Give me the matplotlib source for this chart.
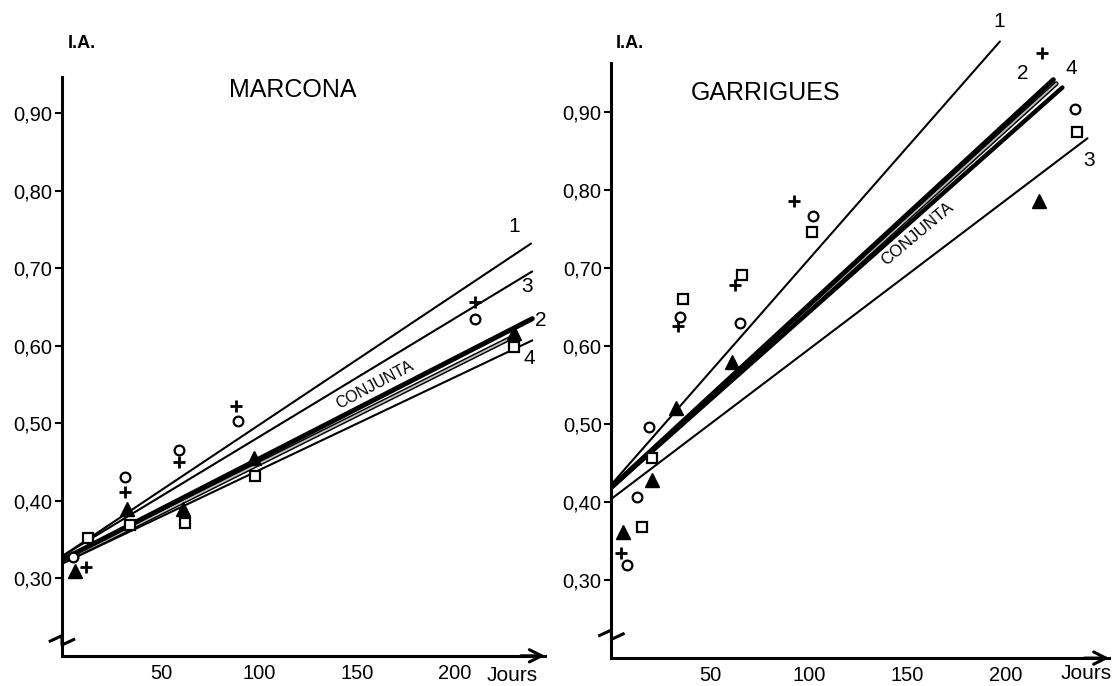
import matplotlib
matplotlib.use("Agg")
import matplotlib.pyplot as plt

plt.rcParams['font.family'] = ['Liberation Sans', 'DejaVu Sans']

# ---------------- MARCONA (left) ----------------
m_tri_x = [5.6, 32.0, 60.8, 97.0, 230.3]
m_tri_y = [0.309, 0.389, 0.390, 0.455, 0.616]
m_plus_x = [11.2, 31.2, 58.6, 87.8, 210.2]
m_plus_y = [0.315, 0.412, 0.450, 0.522, 0.657]
m_circ_x = [4.8, 31.2, 58.6, 88.8, 210.2]
m_circ_y = [0.328, 0.431, 0.466, 0.503, 0.635]
m_sq_x = [12.2, 33.6, 62.1, 97.9, 230.3]
m_sq_y = [0.352, 0.369, 0.372, 0.432, 0.599]

m_line_names = ['1', '3', '2', 'CONJUNTA', '4']
m_line_y0 = [0.330, 0.330, 0.325, 0.322, 0.320]
m_line_x1 = [238.9, 239.5, 239.5, 230.0, 239.5]
m_line_y1 = [0.732, 0.696, 0.635, 0.612, 0.607]

# ---------------- GARRIGUES (right) ----------------
g_tri_x = [5.4, 20.0, 32.2, 60.8, 217.3]
g_tri_y = [0.362, 0.428, 0.520, 0.579, 0.785]
g_plus_x = [4.5, 33.6, 62.4, 92.7, 218.7]
g_plus_y = [0.335, 0.625, 0.678, 0.785, 0.975]
g_circ_x = [7.2, 12.7, 18.7, 34.4, 65.0, 102.3, 235.5]
g_circ_y = [0.319, 0.406, 0.496, 0.637, 0.629, 0.766, 0.903]
g_sq_x = [14.9, 20.0, 36.1, 65.8, 101.8, 236.4]
g_sq_y = [0.368, 0.456, 0.660, 0.691, 0.746, 0.874]

g_line_names = ['1', 'CONJUNTA', '2', '4', '3']
g_line_y0 = [0.424, 0.420, 0.420, 0.420, 0.405]
g_line_x1 = [197.3, 226.0, 224.5, 229.1, 241.9]
g_line_y1 = [0.990, 0.936, 0.941, 0.931, 0.866]

y_ticks = [0.30, 0.40, 0.50, 0.60, 0.70, 0.80, 0.90]
x_ticks = [50, 100, 150, 200]

W, H = 1117, 686
fig = plt.figure(figsize=(W / 100, H / 100), dpi=100)

axL = fig.add_axes([0.0555, 0.0440, 0.4324, 0.8439])
axR = fig.add_axes([0.5474, 0.0407, 0.4457, 0.8670])


def style_axes(ax, xlim, ylim, brk_y):
    ax.set_xlim(*xlim)
    ax.set_ylim(*ylim)
    for s in ('top', 'right'):
        ax.spines[s].set_visible(False)
    ax.spines['left'].set_linewidth(2.2)
    ax.spines['bottom'].set_linewidth(2.2)
    ax.set_yticks(y_ticks)
    ax.set_yticklabels([('%.2f' % v).replace('.', ',') for v in y_ticks])
    ax.set_xticks(x_ticks)
    ax.set_xticklabels([str(v) for v in x_ticks])
    ax.tick_params(axis='y', direction='out', length=5, width=1.5, labelsize=14.5, pad=2)
    ax.tick_params(axis='x', direction='out', length=0, labelsize=14.5, pad=6)
    ax.annotate('', xy=(1.0, 0), xytext=(0.95, 0), xycoords='axes fraction',
                arrowprops=dict(arrowstyle='->', lw=2.2, color='black',
                                mutation_scale=22, shrinkA=0, shrinkB=0))
    # axis break mark
    x0 = xlim[0]
    ax.plot([x0 - 6, x0, x0, x0 + 6],
            [brk_y - 0.001, brk_y + 0.006, brk_y - 0.006, brk_y + 0.001],
            color='black', lw=2.2, clip_on=False, zorder=6)


def draw_lines(ax, names, y0, x1, y1):
    for n, a, xe, ye in zip(names, y0, x1, y1):
        if n == 'CONJUNTA':
            ax.plot([0, xe], [a, ye], color='black', lw=3.4, solid_capstyle='round',
                    zorder=2, clip_on=False)
            ax.plot([0, xe], [a, ye], color='#bdbdbd', lw=1.3, zorder=2.1, clip_on=False)
        elif n == '2':
            ax.plot([0, xe], [a, ye], color='black', lw=3.6, solid_capstyle='round',
                    zorder=3, clip_on=False)
        else:
            lw = 3.2 if (ax is axR and n == '4') else 1.5
            ax.plot([0, xe], [a, ye], color='black', lw=lw, solid_capstyle='round',
                    zorder=3, clip_on=False)


def draw_points(ax, tx, ty, px, py, cx, cy, sx, sy):
    ax.plot(tx, ty, linestyle='none', marker='^', ms=10, color='black', zorder=6, clip_on=False)
    ax.plot(px, py, linestyle='none', marker='+', ms=8, mew=2, color='black', zorder=6, clip_on=False)
    ax.plot(cx, cy, linestyle='none', marker='o', ms=7, mfc='white', mec='black', mew=1.6,
            zorder=6, clip_on=False)
    ax.plot(sx, sy, linestyle='none', marker='s', ms=7, mfc='white', mec='black', mew=1.6,
            zorder=6, clip_on=False)


# ---- left ----
style_axes(axL, (-1, 246), (0.2, 0.947), 0.22)
draw_lines(axL, m_line_names, m_line_y0, m_line_x1, m_line_y1)
draw_points(axL, m_tri_x, m_tri_y, m_plus_x, m_plus_y, m_circ_x, m_circ_y, m_sq_x, m_sq_y)
axL.text(117, 0.93, 'MARCONA', fontsize=18, ha='center', va='center')
axL.text(2, 0.99, 'I.A.', fontsize=13, fontweight='bold', ha='left', va='center', clip_on=False)
axL.text(229, 0.175, 'Jours', fontsize=15, ha='center', va='center', clip_on=False)
axL.text(159, 0.549, 'CONJUNTA', fontsize=11.5, rotation=28, ha='center', va='center')
for lab, xx, yy in [('1', 230.3, 0.754), ('3', 236.7, 0.676), ('2', 244.0, 0.633), ('4', 238.0, 0.584)]:
    axL.text(xx, yy, lab, fontsize=15, ha='center', va='center', clip_on=False)

# ---- right ----
style_axes(axR, (-0.5, 253), (0.2, 0.962), 0.23)
draw_lines(axR, g_line_names, g_line_y0, g_line_x1, g_line_y1)
draw_points(axR, g_tri_x, g_tri_y, g_plus_x, g_plus_y, g_circ_x, g_circ_y, g_sq_x, g_sq_y)
axR.text(78, 0.924, 'GARRIGUES', fontsize=18, ha='center', va='center')
axR.text(1.8, 0.988, 'I.A.', fontsize=13, fontweight='bold', ha='left', va='center', clip_on=False)
axR.text(241, 0.180, 'Jours', fontsize=15, ha='center', va='center', clip_on=False)
axR.text(155.5, 0.744, 'CONJUNTA', fontsize=12, rotation=40, ha='center', va='center')
for lab, xx, yy in [('1', 196.7, 1.015), ('2', 209.0, 0.949), ('4', 233.7, 0.956), ('3', 242.7, 0.838)]:
    axR.text(xx, yy, lab, fontsize=15, ha='center', va='center', clip_on=False)

fig.savefig('out.png', dpi=100)
